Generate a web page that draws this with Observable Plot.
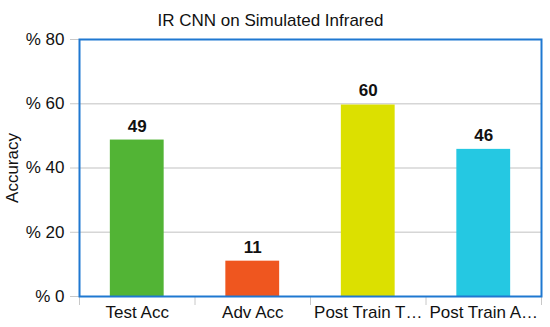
<!DOCTYPE html>
<html>
<head>
<meta charset="utf-8">
<script src="https://cdn.jsdelivr.net/npm/d3@7"></script>
<script src="https://cdn.jsdelivr.net/npm/@observablehq/plot@0.6"></script>
<style>
  html, body { margin: 0; padding: 0; background: #fff; }
  #chart svg { font-family: "Liberation Sans", Arial, sans-serif; display: block; }
</style>
</head>
<body>
<div id="chart"></div>
<script>
const title = "IR CNN on Simulated Infrared";
const yLabel = "Accuracy";
const categories = ["Test Acc", "Adv Acc", "Post Train Test Acc", "Post Train Adv Acc"];
const tickLabels = ["Test Acc", "Adv Acc", "Post Train T\u2026", "Post Train A\u2026"];
const values = [48.7, 11.0, 59.6, 45.8];
const colors = ["#52b435", "#ef561f", "#dce000", "#25c8e2"];
const yTicks = [0, 20, 40, 60, 80];

const data = categories.map((c, i) => ({ category: c, i, value: values[i], color: colors[i] }));
const boundaries = d3.range(categories.length + 1);
const centers = categories.map((c, i) => i + 0.5);

const chart = Plot.plot({
  width: 550,
  height: 327,
  marginLeft: 79,
  marginRight: 9,
  marginTop: 39,
  marginBottom: 31,
  style: { fontFamily: "Liberation Sans, Arial, sans-serif", background: "#fff" },
  x: { type: "linear", domain: [0, categories.length] },
  y: { domain: [0, 80] },
  marks: [
    Plot.gridY(yTicks.slice(1, -1), { stroke: "#d6d6d6", strokeOpacity: 1, strokeWidth: 1.5 }),
    Plot.rectY(data, { x1: d => d.i + 0.267, x2: d => d.i + 0.733, y: "value", fill: "color" }),
    Plot.text(data, { x: d => d.i + 0.5, y: "value", text: d => String(Math.round(d.value)), dy: -14, fontSize: 17, fontWeight: "bold", fill: "#111" }),
    Plot.axisY({ ticks: yTicks, tickFormat: d => "% " + d, tickSize: 9, tickPadding: 6, fontSize: 17, stroke: "#c8c8c8", fill: "#111", label: null }),
    Plot.text([yLabel], { frameAnchor: "left", textAnchor: "middle", rotate: -90, dx: -67, fontSize: 17, fill: "#111" }),
    Plot.axisX({ ticks: boundaries, tickFormat: () => "", tickSize: 9, stroke: "#c8c8c8", label: null }),
    Plot.axisX({ ticks: centers, tickFormat: d => tickLabels[Math.floor(d)], tickSize: 0, tickPadding: 9, fontSize: 17, fill: "#111", label: null }),
    Plot.frame({ stroke: "#1f78d1", strokeWidth: 2 }),
    Plot.text([title], { frameAnchor: "top", dx: -40, dy: -26, fontSize: 17, fill: "#111" })
  ]
});
document.getElementById("chart").appendChild(chart);
</script>
</body>
</html>
